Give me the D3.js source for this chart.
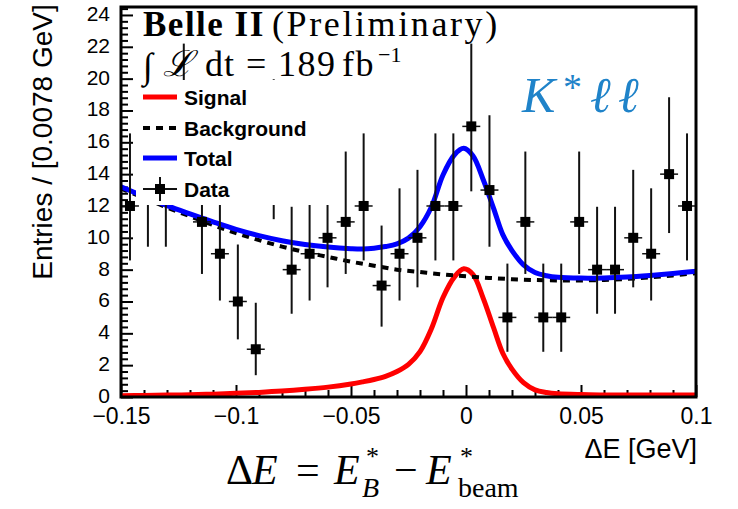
<!DOCTYPE html>
<html><head><meta charset="utf-8">
<script src="https://cdn.jsdelivr.net/npm/d3@7"></script>
<style>body{margin:0;background:#fff}svg{display:block}</style>
</head><body>
<svg id="c" width="738" height="509"></svg>
<script>
// ---------------- data ----------------
const binCenters = [-0.1461,-0.1383,-0.1305,-0.1227,-0.1148,-0.1070,-0.0992,-0.0914,-0.0836,-0.0758,-0.0680,-0.0602,-0.0523,-0.0445,-0.0367,-0.0289,-0.0211,-0.0133,-0.0055,0.0023,0.0102,0.0180,0.0258,0.0336,0.0414,0.0492,0.0570,0.0648,0.0727,0.0805,0.0883,0.0961];
const binWidth = 0.0078125;
const counts = [12,13,13,17,11,9,6,3,15,8,9,10,11,12,7,9,10,12,12,17,13,5,11,5,5,11,8,8,10,9,14,12];
const errLow  = [3.42,3.56,3.56,4.08,3.27,2.94,2.38,1.63,3.83,2.77,2.94,3.11,3.27,3.42,2.58,2.94,3.11,3.42,3.42,4.08,3.56,2.16,3.27,2.16,2.16,3.27,2.77,2.77,3.11,2.94,3.70,3.42];
const errHigh = [4.56,4.70,4.70,5.20,4.42,4.11,3.58,2.92,4.96,3.95,4.11,4.27,4.42,4.56,3.77,4.11,4.27,4.56,4.56,5.20,4.70,3.38,4.42,3.38,3.38,4.42,3.95,3.95,4.27,4.11,4.83,4.56];

const curveX      = [-0.15,-0.14,-0.13,-0.12,-0.11,-0.10,-0.09,-0.08,-0.07,-0.06,-0.05,-0.045,-0.04,-0.035,-0.03,-0.025,-0.02,-0.015,-0.01,-0.005,-0.001,0.003,0.0075,0.012,0.016,0.02,0.025,0.03,0.035,0.04,0.05,0.06,0.07,0.08,0.09,0.10];
const signalY     = [0.08,0.10,0.12,0.14,0.18,0.23,0.29,0.37,0.48,0.62,0.82,0.95,1.10,1.30,1.60,2.05,2.85,4.30,6.25,7.55,8.05,7.70,6.20,4.35,2.75,1.75,0.90,0.45,0.28,0.20,0.15,0.13,0.12,0.12,0.12,0.12];
const totalY      = [13.2,12.6,12.02,11.5,11.0,10.53,10.14,9.82,9.58,9.42,9.32,9.30,9.35,9.45,9.62,9.98,10.7,11.95,13.95,15.22,15.62,15.15,13.65,11.85,10.2,9.2,8.3,7.82,7.62,7.52,7.47,7.48,7.54,7.64,7.76,7.9];
const bkgX        = [-0.15,-0.14,-0.13,-0.12,-0.11,-0.10,-0.09,-0.08,-0.07,-0.06,-0.05,-0.04,-0.03,-0.02,-0.01,0,0.01,0.02,0.03,0.04,0.05,0.06,0.07,0.08,0.09,0.10];
const bkgY        = [13.1,12.5,11.9,11.35,10.8,10.3,9.85,9.45,9.1,8.8,8.5,8.25,8.0,7.85,7.7,7.58,7.48,7.4,7.35,7.32,7.32,7.35,7.42,7.52,7.64,7.78];

const xTicks = [-0.15,-0.1,-0.05,0,0.05,0.1];
const xTickLabels = ["\u22120.15","\u22120.1","\u22120.05","0","0.05","0.1"];
const yTicks = [0,2,4,6,8,10,12,14,16,18,20,22,24];
const yTickLabels = ["0","2","4","6","8","10","12","14","16","18","20","22","24"];
const legendLabels = ["Signal","Background","Total","Data"];

// ---------------- layout ----------------
const svg = d3.select("#c");
const L = 121, R = 696, T = 7, B = 397;
const x = d3.scaleLinear().domain([-0.15, 0.1]).range([L, R]);
const y = d3.scaleLinear().domain([0, 24.5]).range([B, T]);
const sans = "'Liberation Sans', Arial, Helvetica, sans-serif";
const serif = "'Liberation Serif', 'Times New Roman', serif";

svg.append("defs").append("clipPath").attr("id","clip")
  .append("rect").attr("x",L).attr("y",T).attr("width",R-L).attr("height",B-T);

// axes ticks
const minorX = d3.range(-0.15, 0.1001, 0.01).filter(v => !xTicks.some(t => Math.abs(t-v) < 1e-6));
const minorY = d3.range(0, 24.41, 0.4).filter(v => !yTicks.some(t => Math.abs(t-v) < 1e-6));

const gx = svg.append("g").attr("transform",`translate(0,${B})`)
  .call(d3.axisBottom(x).tickValues(xTicks).tickSize(-12).tickPadding(11)
        .tickFormat((d,i) => xTickLabels[i]));
const gxm = svg.append("g").attr("transform",`translate(0,${B})`)
  .call(d3.axisBottom(x).tickValues(minorX).tickSize(-7).tickFormat(""));
const gy = svg.append("g").attr("transform",`translate(${L},0)`)
  .call(d3.axisLeft(y).tickValues(yTicks).tickSize(-12).tickPadding(11)
        .tickFormat((d,i) => yTickLabels[i]));
const gym = svg.append("g").attr("transform",`translate(${L},0)`)
  .call(d3.axisLeft(y).tickValues(minorY).tickSize(-7).tickFormat(""));
[gx,gxm,gy,gym].forEach(g => {
  g.select(".domain").remove();
  g.selectAll(".tick line").attr("stroke","#000").attr("stroke-width",2);
});
gx.selectAll("text").attr("font-family",sans).attr("font-size",23).attr("fill","#000").attr("dy","0.7em");
gy.selectAll("text").attr("font-family",sans).attr("font-size",21).attr("fill","#000").attr("dy","0.26em");

// curves
const plot = svg.append("g").attr("clip-path","url(#clip)");
const line = d3.line().x(d => x(d[0])).y(d => y(d[1])).curve(d3.curveCatmullRom.alpha(0.5));
plot.append("path").datum(curveX.map((v,i)=>[v,signalY[i]]))
  .attr("d",line).attr("fill","none").attr("stroke","#ff0000").attr("stroke-width",5);
plot.append("path").datum(bkgX.map((v,i)=>[v,bkgY[i]]))
  .attr("d",line).attr("fill","none").attr("stroke","#000").attr("stroke-width",4)
  .attr("stroke-dasharray","7,6");
plot.append("path").datum(curveX.map((v,i)=>[v,totalY[i]]))
  .attr("d",line).attr("fill","none").attr("stroke","#0000ff").attr("stroke-width",5);

// data points
const dg = svg.append("g");
counts.forEach((c,i) => {
  const cx = x(binCenters[i]), cy = y(c);
  dg.append("line").attr("x1",cx).attr("x2",cx).attr("y1",y(c+errHigh[i])).attr("y2",y(c-errLow[i]))
    .attr("stroke","#111").attr("stroke-width",2);
  dg.append("line").attr("x1",x(binCenters[i]-binWidth/2)).attr("x2",x(binCenters[i]+binWidth/2))
    .attr("y1",cy).attr("y2",cy).attr("stroke","#111").attr("stroke-width",1.5);
  dg.append("rect").attr("x",cx-5).attr("y",cy-5).attr("width",10).attr("height",10).attr("fill","#000");
});

// frame
svg.append("rect").attr("x",L).attr("y",T).attr("width",R-L).attr("height",B-T)
  .attr("fill","none").attr("stroke","#000").attr("stroke-width",3);

// legend
const lg = svg.append("g");
lg.append("rect").attr("x",136).attr("y",80).attr("width",199).attr("height",125).attr("fill","#fff");
const rowsY = [97,128,158,189];
lg.append("line").attr("x1",143).attr("x2",177).attr("y1",rowsY[0]).attr("y2",rowsY[0]).attr("stroke","#ff0000").attr("stroke-width",5);
lg.append("line").attr("x1",143).attr("x2",177).attr("y1",rowsY[1]).attr("y2",rowsY[1]).attr("stroke","#000").attr("stroke-width",4).attr("stroke-dasharray","7,6");
lg.append("line").attr("x1",143).attr("x2",177).attr("y1",rowsY[2]).attr("y2",rowsY[2]).attr("stroke","#0000ff").attr("stroke-width",5);
lg.append("line").attr("x1",143).attr("x2",177).attr("y1",rowsY[3]).attr("y2",rowsY[3]).attr("stroke","#111").attr("stroke-width",2);
lg.append("line").attr("x1",160).attr("x2",160).attr("y1",rowsY[3]-12).attr("y2",rowsY[3]+12).attr("stroke","#111").attr("stroke-width",2);
lg.append("rect").attr("x",155).attr("y",rowsY[3]-5).attr("width",10).attr("height",10).attr("fill","#000");
legendLabels.forEach((t,i) => {
  lg.append("text").attr("x",184).attr("y",rowsY[i]).attr("dy","0.36em")
    .attr("font-family",sans).attr("font-weight","bold").attr("font-size",21).text(t);
});

// header texts
const h1 = svg.append("text").attr("x",143).attr("y",36).attr("font-family",serif).attr("font-size",35);
h1.append("tspan").attr("font-weight","bold").attr("letter-spacing",1.5).text("Belle II");
h1.append("tspan").attr("x",272).attr("font-size",36).attr("letter-spacing",2.6).text("(Preliminary)");
const h2 = svg.append("g").attr("font-family",serif).attr("font-size",36);
h2.append("text").attr("x",143).attr("y",78).text("\u222B");
h2.append("text").attr("x",163).attr("y",76).attr("font-style","italic").text("\u2112");
h2.append("text").attr("x",205).attr("y",76).attr("letter-spacing",1).text("dt");
h2.append("text").attr("x",246).attr("y",76).text("\uFF1D".length ? "=" : "=");
h2.append("text").attr("x",278).attr("y",76).attr("letter-spacing",1.5).text("189");
h2.append("text").attr("x",342).attr("y",76).attr("letter-spacing",1.5).text("fb");
h2.append("text").attr("x",378).attr("y",62).attr("font-size",22).text("\u22121");

const k = svg.append("g").attr("font-family",serif).attr("font-style","italic").attr("fill","#1f83c9");
k.append("text").attr("x",522).attr("y",112).attr("font-size",50).text("K");
k.append("text").attr("x",563).attr("y",100).attr("font-size",38).attr("font-style","normal").text("*");
k.append("text").attr("x",590).attr("y",112).attr("font-size",50).text("\u2113");
k.append("text").attr("x",618).attr("y",112).attr("font-size",50).text("\u2113");

// axis titles
svg.append("text").attr("transform","translate(52,142) rotate(-90)").attr("text-anchor","middle")
  .attr("font-family",sans).attr("font-size",28).text("Entries / [0.0078 GeV]");
svg.append("text").attr("x",697).attr("y",458).attr("text-anchor","end")
  .attr("font-family",sans).attr("font-size",27).text("\u0394E [GeV]");

// formula
const fg = svg.append("g").attr("font-family",serif);
const y0 = 484;
function put(t, px, py, fs, it) {
  fg.append("text").attr("x",px).attr("y",py).attr("font-size",fs)
    .attr("font-style",it?"italic":"normal").text(t);
}
put("\u0394", 226, y0, 42, false);
put("E", 252, y0, 42, true);
put("=", 296, y0, 42, false);
put("E", 334, y0, 42, true);
put("*", 366, y0-19, 26, false);
put("B", 362, y0+13, 28, true);
put("\u2212", 394, y0, 42, false);
put("E", 426, y0, 42, true);
put("*", 460, y0-19, 26, false);
put("beam", 458, y0+13, 28, false);
</script>
</body></html>
